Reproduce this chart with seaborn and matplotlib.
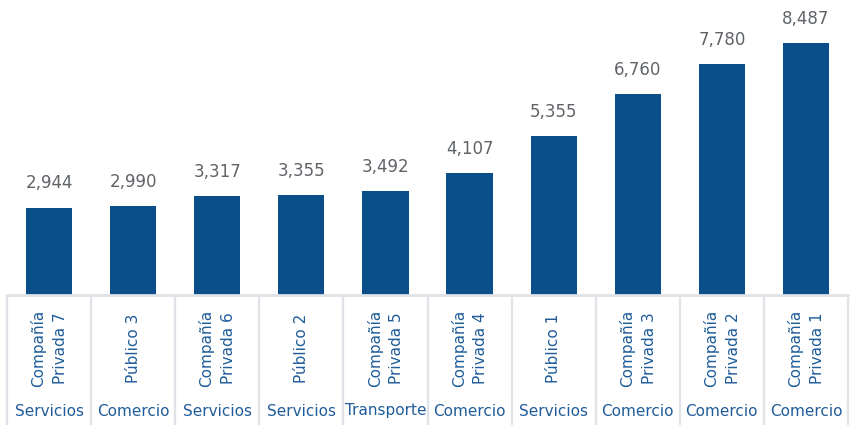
import matplotlib
matplotlib.use("Agg")
import matplotlib.pyplot as plt
import matplotlib.transforms as mtransforms
import seaborn as sns
import pandas as pd

names = ["Compañía\nPrivada 7", "Público 3", "Compañía\nPrivada 6", "Público 2",
         "Compañía\nPrivada 5", "Compañía\nPrivada 4", "Público 1",
         "Compañía\nPrivada 3", "Compañía\nPrivada 2", "Compañía\nPrivada 1"]
sectors = ["Servicios", "Comercio", "Servicios", "Servicios", "Transporte",
           "Comercio", "Servicios", "Comercio", "Comercio", "Comercio"]
values = [2944, 2990, 3317, 3355, 3492, 4107, 5355, 6760, 7780, 8487]

sns.set_theme(style="white")
plt.rcParams["font.family"] = ["DejaVu Sans"]

df = pd.DataFrame({"name": names, "value": values})

fig = plt.figure(figsize=(8.51, 4.25), dpi=100)
ax = fig.add_axes([7/851, 130/425, 841/851, 295/425])

bar_color = "#0b4f8a"
sns.barplot(data=df, x="name", y="value", color=bar_color, width=0.55,
            saturation=1, linewidth=0, ax=ax)

ax.set_ylim(0, 9930)
ax.set_xlim(-0.5, len(names) - 0.5)
for s in ["top", "right", "left"]:
    ax.spines[s].set_visible(False)
ax.spines["bottom"].set_color("#dfe2e6")
ax.spines["bottom"].set_linewidth(2)
ax.set_yticks([])
ax.set_xticks([])
ax.set_xlabel("")
ax.set_ylabel("")

# value labels
for i, v in enumerate(values):
    ax.annotate(f"{v:,}", (i, v), xytext=(0, 11), textcoords="offset points",
                ha="center", va="bottom", fontsize=12, color="#5f6368")

trans = mtransforms.blended_transform_factory(ax.transData, ax.transAxes)
ax_h = 295.0
for i, (n, s) in enumerate(zip(names, sectors)):
    ax.text(i, -(348 - 295) / ax_h, n, transform=trans, rotation=90,
            ha="center", va="center", multialignment="center",
            fontsize=11, color="#1f5c99", linespacing=1.55)
    ax.text(i, -(411 - 295) / ax_h, s, transform=trans, ha="center",
            va="center", fontsize=11, color="#1f5c99")

for b in range(len(names) + 1):
    ax.plot([b - 0.5, b - 0.5], [0, -130 / ax_h], transform=trans,
            color="#dfe2e6", lw=1.6, clip_on=False)

fig.savefig("out.png", dpi=100)
